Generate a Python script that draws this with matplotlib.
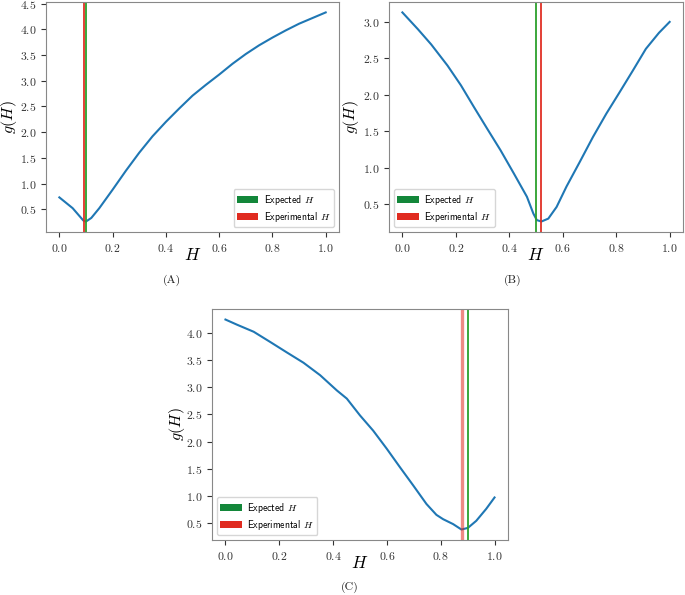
"""
g(H) curves for three test signals, with expected and experimental H marked.
"""

import matplotlib
matplotlib.use('Agg')
import matplotlib.pyplot as plt
import matplotlib.patches as mpatches

plt.rcParams['mathtext.fontset'] = 'cm'
plt.rcParams['font.family'] = 'cmr10'
plt.rcParams['axes.formatter.use_mathtext'] = True

# Panel A
h_a = [0.0, 0.05, 0.09, 0.1, 0.12, 0.15, 0.2, 0.25, 0.3, 0.35, 0.4, 0.45, 0.5,
       0.55, 0.6, 0.65, 0.7, 0.75, 0.8, 0.85, 0.9, 0.95, 1.0]
g_a = [0.73, 0.52, 0.28, 0.26, 0.33, 0.52, 0.88, 1.25, 1.6, 1.92, 2.2, 2.46, 2.71,
       2.92, 3.12, 3.33, 3.52, 3.69, 3.84, 3.98, 4.11, 4.22, 4.33]
expected_a, experimental_a = 0.10, 0.092

# Panel B
h_b = [0.0, 0.058, 0.108, 0.169, 0.219, 0.268, 0.318, 0.367, 0.417, 0.466, 0.49,
       0.503, 0.52, 0.546, 0.577, 0.614, 0.664, 0.713, 0.763, 0.812, 0.862, 0.911,
       0.96, 1.0]
g_b = [3.13, 2.90, 2.69, 2.40, 2.13, 1.83, 1.53, 1.24, 0.92, 0.60, 0.37,
       0.28, 0.26, 0.30, 0.46, 0.74, 1.08, 1.42, 1.74, 2.03, 2.33, 2.63,
       2.85, 3.0]
expected_b, experimental_b = 0.50, 0.518

# Panel C
h_c = [0.0, 0.043, 0.105, 0.167, 0.228, 0.29, 0.352, 0.414, 0.451, 0.5, 0.549,
       0.599, 0.648, 0.698, 0.747, 0.784, 0.809, 0.846, 0.877, 0.901, 0.932,
       0.969, 1.0]
g_c = [4.245, 4.15, 4.02, 3.83, 3.64, 3.45, 3.22, 2.94, 2.79, 2.48, 2.20,
       1.87, 1.53, 1.19, 0.85, 0.65, 0.57, 0.48, 0.38, 0.41, 0.54,
       0.76, 0.97]
expected_c, experimental_c = 0.90, 0.88

panels = [
    (h_a, g_a, expected_a, experimental_a, 'lower right', '(A)'),
    (h_b, g_b, expected_b, experimental_b, 'lower left', '(B)'),
    (h_c, g_c, expected_c, experimental_c, 'lower left', '(C)'),
]

# axes boxes in figure fraction
boxes = [
    [0.0672, 0.6101, 0.4277, 0.3866],
    [0.5679, 0.6101, 0.4292, 0.3866],
    [0.3095, 0.0924, 0.4321, 0.3882],
]
ylabel_x = [-0.091, -0.095, -0.085]
caption_pos = [(0.251, 0.529), (0.749, 0.529), (0.511, 0.013)]

fig = plt.figure(figsize=(6.85, 5.95), dpi=100)

for idx, (h, g, exp_h, meas_h, loc, caption) in enumerate(panels):
    ax = fig.add_axes(boxes[idx])
    ax.plot(h, g, color='#1f77b4', linewidth=1.5)
    red_alpha = 0.55 if idx == 2 else 0.9
    red_lw = 2.4 if idx == 2 else 1.4
    ax.axvline(meas_h, color='#e02b20', linewidth=red_lw, alpha=red_alpha)
    ax.axvline(exp_h, color='#2ca02c', linewidth=1.3)

    ax.set_xticks([0.0, 0.2, 0.4, 0.6, 0.8, 1.0])
    ax.tick_params(labelsize=8.5, colors='#333333')
    for spine in ax.spines.values():
        spine.set_edgecolor('#888888')
    ax.set_xlabel(r'$H$', fontsize=12.5)
    ax.set_ylabel(r'$g(H)$', fontsize=11.5)
    ax.xaxis.set_label_coords(0.5, -0.065)
    ax.yaxis.set_label_coords(ylabel_x[idx], 0.5)

    legend_elements = [
        mpatches.Patch(facecolor='#13873a', label=r'Expected $H$'),
        mpatches.Patch(facecolor='#e02b20', label=r'Experimental $H$'),
    ]
    ax.legend(handles=legend_elements, loc=loc,
              prop={'family': 'cmss10', 'size': 7},
              handlelength=2.2, handleheight=0.7, borderpad=0.35,
              labelspacing=0.3, handletextpad=0.6)

    fig.text(caption_pos[idx][0], caption_pos[idx][1], caption,
             ha='center', va='center', fontsize=8.5, color='#222222')

plt.savefig('out.png', dpi=100)
plt.close()
